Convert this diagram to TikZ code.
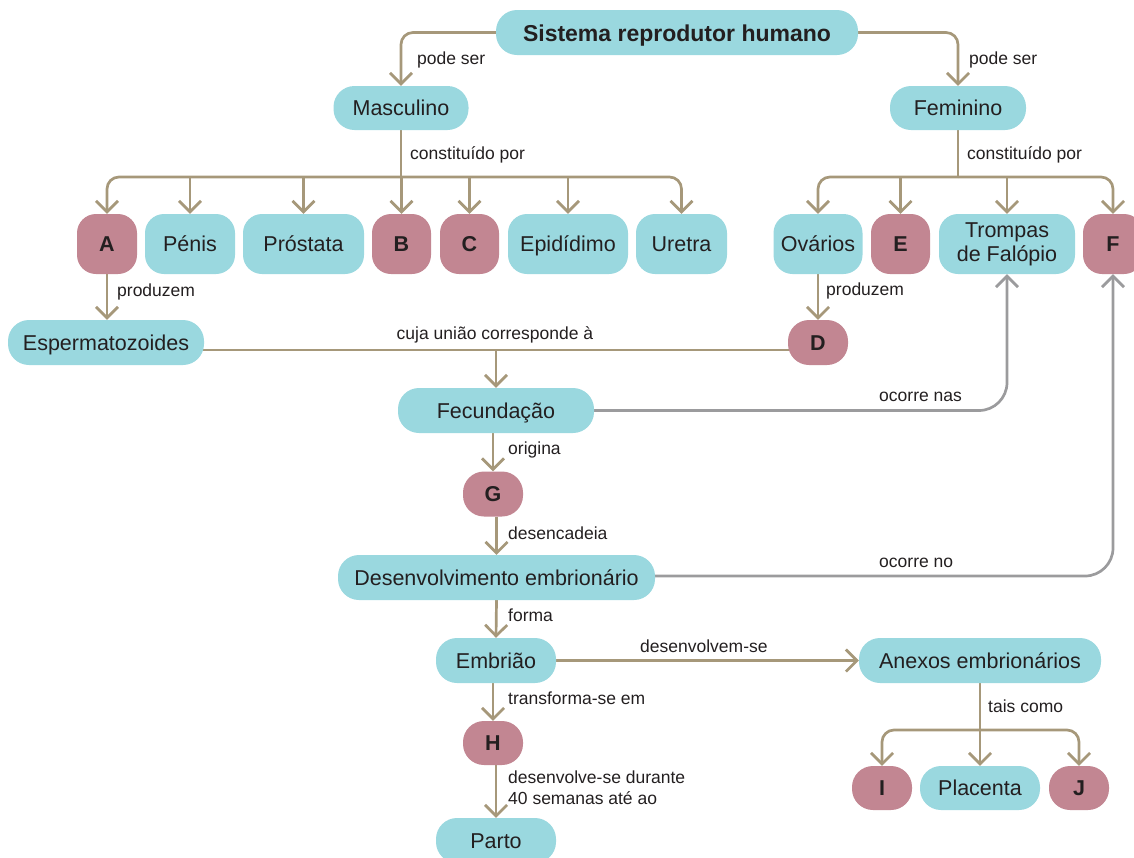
\documentclass[tikz,border=0pt]{standalone}
\usepackage{fontspec}
\setmainfont{Liberation Sans}
\usetikzlibrary{arrows.meta}
\definecolor{boxcyan}{HTML}{9AD8DF}
\definecolor{boxmauve}{HTML}{C28692}
\definecolor{linkbrown}{HTML}{A6987A}
\definecolor{linkgray}{HTML}{9B9B9D}
\definecolor{inktext}{HTML}{231F20}
\pgfdeclarelayer{background}
\pgfsetlayers{background,main}
\begin{document}
\begin{tikzpicture}[x=1pt,y=-1pt,
  box/.style={rectangle, inner sep=0pt, text=inktext, align=center,
    text height=17.5pt, text depth=2pt,
    font=\fontsize{21.5}{24}\selectfont},
  concept/.style={box, fill=boxcyan},
  blank/.style={box, fill=boxmauve, font=\fontsize{21.5}{24}\selectfont\bfseries},
  sz/.style n args={2}{minimum width=#1pt, minimum height=#2pt},
  pill/.style={rounded corners=21pt},
  tile/.style={rounded corners=19pt},
  lbl/.style={inner sep=0pt, text=inktext, anchor=west, align=left,
    font=\fontsize{17.5}{21}\selectfont},
  link/.style={draw=linkbrown, line width=2.7pt, rounded corners=12pt},
  tip/.style={-{Straight Barb[length=11pt,width=22pt]}},
  back/.style={draw=linkgray, line width=2.7pt, rounded corners=28pt,
    -{Straight Barb[length=11pt,width=22pt]}}
]
\useasboundingbox (0,0) rectangle (1134,857);

% --- top level
\node[concept, pill, sz={362}{45}, text height=18pt, text depth=1pt,
  font=\fontsize{23}{26}\selectfont\bfseries] (title) at (677,32.5) {Sistema reprodutor humano};
\node[concept, pill, sz={135}{44}] (masc) at (401,108) {Masculino};
\node[concept, pill, sz={136}{44}] (fem) at (958,108) {Feminino};

% --- male organs
\node[blank, tile, sz={60}{60}] (A) at (107,244) {A};
\node[concept, tile, sz={90}{60}] (penis) at (190,244) {Pénis};
\node[concept, tile, sz={121}{60}] (prost) at (303.5,244) {Próstata};
\node[blank, tile, sz={59}{60}] (B) at (401.5,244) {B};
\node[blank, tile, sz={59}{60}] (C) at (469.5,244) {C};
\node[concept, tile, sz={120}{60}] (epid) at (568,244) {Epidídimo};
\node[concept, tile, sz={91}{60}] (uretra) at (681.5,244) {Uretra};

% --- female organs
\node[concept, tile, sz={89}{60}] (ovar) at (818,244) {Ovários};
\node[blank, tile, sz={59}{60}] (E) at (900.5,244) {E};
\node[concept, tile, sz={136}{60}, text height=, text depth=] (tromp) at (1007,244) {Trompas\\de Falópio};
\node[blank, tile, sz={60}{60}] (F) at (1113,244) {F};

% --- gametes and development chain
\node[concept, pill, sz={196}{45}] (esperm) at (106,342.5) {Espermatozoides};
\node[blank, pill, sz={60}{45}] (D) at (818,342.5) {D};
\node[concept, pill, sz={196}{45}] (fec) at (496,410.5) {Fecundação};
\node[blank, pill, sz={60}{45}] (G) at (493,494) {G};
\node[concept, pill, sz={317}{45}] (desenv) at (496.5,577.5) {Desenvolvimento embrionário};
\node[concept, pill, sz={120}{45}] (embr) at (496,660.5) {Embrião};
\node[concept, pill, sz={242}{45}] (anexos) at (980,660.5) {Anexos embrionários};
\node[blank, pill, sz={60}{44}] (H) at (493,743) {H};
\node[concept, pill, sz={120}{45}] (parto) at (496,840.5) {Parto};
\node[blank, pill, sz={60}{44}] (I) at (882,788) {I};
\node[concept, pill, sz={120}{44}] (plac) at (980,788) {Placenta};
\node[blank, pill, sz={60}{44}] (J) at (1079,788) {J};

% --- connector labels
\node[lbl] (lpodeM) at (417,60) {pode ser};
\node[lbl] (lpodeF) at (969,60) {pode ser};
\node[lbl] (lconM) at (410,155) {constituído por};
\node[lbl] (lconF) at (967,155) {constituído por};
\node[lbl] (lprodA) at (117,292) {produzem};
\node[lbl] (lprodO) at (826,291) {produzem};
\node[lbl, anchor=center] (lunion) at (495,335) {cuja união corresponde à};
\node[lbl] (lnas) at (879,397) {ocorre nas};
\node[lbl] (lorig) at (508,450) {origina};
\node[lbl] (ldesenc) at (508,533) {desencadeia};
\node[lbl] (lno) at (879,563) {ocorre no};
\node[lbl] (lforma) at (508,615) {forma};
\node[lbl] (ldesenvse) at (640,646) {desenvolvem-se};
\node[lbl] (ltransf) at (508,698) {transforma-se em};
\node[lbl] (ldurante) at (508,788) {desenvolve-se durante\\40 semanas até ao};
\node[lbl] (ltais) at (988,706) {tais como};

% --- connectors
\coordinate (mbar) at (401,177);
\coordinate (fbar) at (958,177);
\coordinate (ujoin) at (496,350);
\coordinate (abar) at (980,730);

\begin{pgfonlayer}{background}
  \draw[link,tip] (title.west) -| (masc.north);
  \draw[link,tip] (title.east) -| (fem.north);

  \draw[link] (masc.south) -- (mbar);
  \draw[link,tip] (mbar) -| (A.north);
  \draw[link,tip] (mbar) -| (uretra.north);
  \draw[link,tip] (penis.north |- mbar) -- (penis.north);
  \draw[link,tip] (prost.north |- mbar) -- (prost.north);
  \draw[link,tip] (B.north |- mbar) -- (B.north);
  \draw[link,tip] (C.north |- mbar) -- (C.north);
  \draw[link,tip] (epid.north |- mbar) -- (epid.north);

  \draw[link] (fem.south) -- (fbar);
  \draw[link,tip] (fbar) -| (ovar.north);
  \draw[link,tip] (fbar) -| (F.north);
  \draw[link,tip] (E.north |- fbar) -- (E.north);
  \draw[link,tip] (tromp.north |- fbar) -- (tromp.north);

  \draw[link,tip] (A.south) -- (A.south |- esperm.north);
  \draw[link,tip] (ovar.south) -- (D.north);

  \draw[link] (esperm.center |- ujoin) -- (D.center |- ujoin);
  \draw[link,tip] (ujoin) -- (ujoin |- fec.north);

  \draw[back] (fec.east) -| (tromp.south);
  \draw[back] ([yshift=1.5pt]desenv.east) -| (F.south);

  \draw[link,tip] (G.north |- fec.south) -- (G.north);
  \draw[link,tip] (desenv.north |- G.south) -- (desenv.north);
  \draw[link,tip] (desenv.south) -- (embr.north);
  \draw[link,tip] (H.north |- embr.south) -- (H.north);
  \draw[link,tip] (parto.north |- H.south) -- (parto.north);
  \draw[link,tip] (embr.east) -- (anexos.west);

  \draw[link] (anexos.south) -- (abar);
  \draw[link,tip] (abar) -| (I.north);
  \draw[link,tip] (abar) -| (J.north);
  \draw[link,tip] (plac.north |- abar) -- (plac.north);
\end{pgfonlayer}
\end{tikzpicture}
\end{document}
